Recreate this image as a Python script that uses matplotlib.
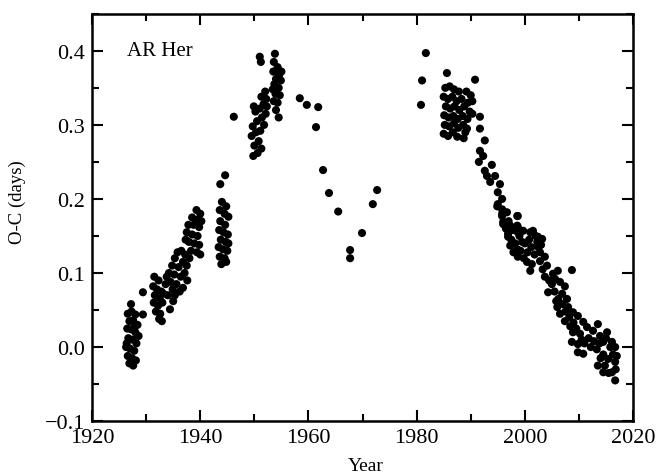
import numpy as np
import matplotlib.pyplot as plt
from matplotlib.ticker import MultipleLocator

plt.rcParams['font.family'] = ['Liberation Serif', 'DejaVu Serif']

# O-C measurements of AR Her, read off the plot --------------------------
# early photographic epochs (1926-1955)
year_early = [
    1927.2, 1929.4, 1929.4, 1926.6, 1927.3, 1928.0, 1926.9, 1927.6, 1928.4, 1926.5,
    1927.2, 1928.0, 1928.6, 1926.7, 1927.5, 1928.2, 1926.3, 1927.0, 1927.8, 1926.6,
    1927.4, 1928.1, 1926.9, 1927.6, 1926.4, 1927.9,
    1931.5, 1932.3, 1931.3, 1932.0, 1932.8, 1931.6, 1932.5, 1933.2, 1931.4, 1932.2,
    1933.0, 1931.8, 1932.6, 1932.9, 1932.4, 1934.4, 1933.6, 1933.8,
    1934.2, 1934.8, 1935.3, 1935.8, 1936.5, 1937.2, 1934.5, 1935.2, 1936.0, 1936.8,
    1937.5, 1934.9, 1935.6, 1936.4, 1937.1, 1935.3, 1936.2, 1935.0, 1937.6, 1936.8,
    1934.0, 1938.0,
    1939.3, 1940.0, 1938.5, 1939.5, 1937.8, 1938.8, 1939.8, 1937.5, 1938.5, 1939.5,
    1937.9, 1938.9, 1939.8, 1938.3, 1939.4, 1940.0, 1937.3, 1940.2,
    1944.0, 1944.8, 1943.6, 1944.5, 1945.2, 1943.7, 1944.6, 1943.5, 1944.3, 1945.1,
    1943.8, 1944.7, 1943.4, 1944.2, 1945.0, 1943.6, 1944.5, 1943.9, 1944.8, 1945.2,
    1943.7, 1944.6, 1946.2,
    1949.8, 1950.6, 1951.3, 1950.0, 1950.8, 1949.5, 1950.3, 1951.1, 1951.8, 1949.7,
    1950.5, 1951.4, 1952.1, 1950.2, 1951.0, 1951.7, 1952.2, 1951.3, 1952.0, 1949.9,
    1951.0, 1951.2, 1952.3,
    1953.8, 1953.6, 1954.3, 1953.5, 1954.6, 1954.0, 1954.9, 1953.7, 1954.5, 1953.9,
    1954.7, 1953.6, 1954.3, 1954.0, 1954.5, 1955.0, 1953.4,
]
oc_early = [
    0.058, 0.074, 0.044, 0.045, 0.048, 0.044, 0.035, 0.036, 0.030, 0.025,
    0.024, 0.020, 0.015, 0.012, 0.010, 0.005, 0.000, -0.002, -0.005, -0.012,
    -0.015, -0.018, -0.022, -0.025, 0.005, 0.028,
    0.095, 0.090, 0.082, 0.078, 0.075, 0.070, 0.066, 0.072, 0.060, 0.056,
    0.060, 0.048, 0.045, 0.035, 0.038, 0.051, 0.085, 0.095,
    0.100, 0.110, 0.120, 0.128, 0.130, 0.125, 0.088, 0.098, 0.108, 0.115,
    0.110, 0.078, 0.085, 0.095, 0.100, 0.070, 0.075, 0.062, 0.090, 0.080,
    0.070, 0.120,
    0.185, 0.180, 0.175, 0.172, 0.165, 0.165, 0.162, 0.155, 0.152, 0.150,
    0.142, 0.140, 0.138, 0.130, 0.128, 0.125, 0.145, 0.170,
    0.196, 0.190, 0.185, 0.180, 0.176, 0.170, 0.165, 0.158, 0.155, 0.152,
    0.145, 0.142, 0.135, 0.132, 0.130, 0.122, 0.120, 0.112, 0.115, 0.140,
    0.220, 0.232, 0.311,
    0.258, 0.262, 0.268, 0.272, 0.278, 0.285, 0.290, 0.292, 0.300, 0.298,
    0.305, 0.310, 0.315, 0.318, 0.322, 0.328, 0.335, 0.338, 0.345, 0.325,
    0.392, 0.385, 0.325,
    0.396, 0.385, 0.378, 0.372, 0.368, 0.362, 0.360, 0.355, 0.350, 0.342,
    0.340, 0.332, 0.330, 0.320, 0.310, 0.372, 0.348,
]

# sparse minima 1958-1982
year_mid = [1958.4, 1959.7, 1961.8, 1961.4, 1962.7, 1963.8, 1965.5, 1967.7, 1967.7,
            1969.9, 1971.9, 1972.7, 1980.8, 1981.0, 1981.7]
oc_mid = [0.336, 0.327, 0.324, 0.297, 0.239, 0.208, 0.183, 0.131, 0.120,
          0.154, 0.193, 0.212, 0.327, 0.360, 0.397]

# modern CCD epochs (1985-2017)
year_late = [
    1985.6, 1990.8,
    1985.3, 1986.1, 1986.9, 1987.8, 1989.2, 1990.0, 1985.0, 1985.8, 1986.6, 1987.4,
    1988.3, 1989.5, 1990.3, 1985.4, 1986.2, 1987.0, 1987.9, 1988.8, 1989.8, 1985.1,
    1985.9, 1986.8, 1987.6, 1988.5, 1989.4, 1990.3, 1985.2, 1986.0, 1986.9, 1987.7,
    1988.6, 1989.3, 1985.0, 1985.8, 1986.7, 1987.5, 1988.7, 1989.0,
    1991.7, 1991.7, 1992.6, 1991.7, 1992.3, 1991.5, 1993.9, 1992.6, 1993.0, 1994.5,
    1993.6, 1995.4, 1995.0, 1995.8, 1994.9, 1995.8, 1996.7, 1995.8, 1998.6, 1996.0,
    1997.3, 1998.7, 1996.9, 1999.7, 2001.0, 2002.4,
    1995.0, 1995.8, 1998.7, 1996.0, 1998.6, 1996.9, 1998.7, 1997.3, 1998.6, 1999.5,
    1998.7, 2000.4, 2001.0, 2001.5, 2002.3, 2003.2, 2002.8, 2003.7, 2002.8, 2004.1,
    2008.7, 2003.7, 2005.2, 2006.1, 2006.5, 2004.3, 2007.4, 2006.9, 2007.8, 2006.0,
    2008.0, 2006.5, 2008.9, 2007.4, 2009.8, 2008.4, 2010.8, 2008.9, 2011.5, 2008.7,
    2009.8, 2012.6, 2013.5, 2013.9, 2009.8, 2010.8, 2014.5, 2015.2, 2016.1, 2013.3,
    2013.5, 2014.5, 2015.4, 2016.7, 2016.7, 2016.1, 2016.7, 2017.0, 2014.5,
    1997.0, 1997.8, 1997.5, 1998.2, 1996.5, 1997.9, 1999.2, 1999.8, 2000.5, 2001.2,
    2001.8, 2002.0, 2002.5, 2003.0, 2001.3, 2003.3, 2004.5, 2005.0, 2005.6, 2005.5,
    2006.2, 2005.8, 2007.0, 2007.5, 2008.2, 2009.0, 2009.5, 2010.2, 2010.5, 2011.0,
    2011.8, 2012.2, 2012.8, 2013.8, 2014.0, 2014.8, 2015.5, 2015.8, 2016.3, 2016.8,
    2015.0, 1999.0, 2000.0, 2000.8,
]
oc_late = [
    0.370, 0.361,
    0.350, 0.352, 0.348, 0.345, 0.345, 0.340, 0.338, 0.335, 0.338, 0.332,
    0.335, 0.330, 0.332, 0.325, 0.322, 0.325, 0.320, 0.325, 0.318, 0.313,
    0.310, 0.312, 0.308, 0.312, 0.308, 0.315, 0.300, 0.298, 0.302, 0.296,
    0.300, 0.295, 0.288, 0.285, 0.290, 0.284, 0.282, 0.290,
    0.311, 0.295, 0.279, 0.265, 0.258, 0.250, 0.246, 0.238, 0.231, 0.231,
    0.223, 0.220, 0.209, 0.200, 0.190, 0.186, 0.182, 0.177, 0.177, 0.169,
    0.164, 0.162, 0.153, 0.157, 0.155, 0.149,
    0.193, 0.180, 0.177, 0.166, 0.164, 0.149, 0.155, 0.137, 0.132, 0.142,
    0.122, 0.115, 0.103, 0.157, 0.142, 0.146, 0.128, 0.122, 0.116, 0.110,
    0.104, 0.095, 0.099, 0.103, 0.088, 0.074, 0.082, 0.072, 0.065, 0.054,
    0.054, 0.045, 0.047, 0.035, 0.042, 0.028, 0.034, 0.020, 0.027, 0.007,
    0.004, 0.022, 0.031, 0.015, -0.007, -0.009, 0.007, 0.020, 0.007, -0.003,
    -0.025, -0.034, -0.016, 0.000, -0.020, -0.034, -0.045, -0.012, -0.010,
    0.170, 0.158, 0.145, 0.140, 0.160, 0.128, 0.130, 0.120, 0.128, 0.135,
    0.125, 0.150, 0.135, 0.138, 0.112, 0.105, 0.090, 0.085, 0.092, 0.075,
    0.065, 0.062, 0.058, 0.048, 0.040, 0.033, 0.025, 0.018, 0.010, 0.005,
    0.012, 0.000, 0.008, 0.005, -0.015, -0.025, -0.035, 0.000, -0.010, -0.030,
    0.012, 0.150, 0.140, 0.145,
]

year = np.array(year_early + year_mid + year_late)
oc = np.array(oc_early + oc_mid + oc_late)

# Plot ------------------------------------------------------------------
fig = plt.figure(figsize=(6.72, 4.77), dpi=100)
ax = fig.add_axes([0.137, 0.115, 0.805, 0.854])

ax.scatter(year, oc, s=34, c='black', edgecolors='none')

ax.set_xlim(1920, 2020)
ax.set_ylim(-0.1, 0.45)
ax.xaxis.set_major_locator(MultipleLocator(20))
ax.xaxis.set_minor_locator(MultipleLocator(10))
ax.yaxis.set_major_locator(MultipleLocator(0.1))
ax.yaxis.set_minor_locator(MultipleLocator(0.05))
ax.set_yticks([-0.1, 0.0, 0.1, 0.2, 0.3, 0.4])
ax.set_yticklabels(['\u22120.1', '0.0', '0.1', '0.2', '0.3', '0.4'])

ax.tick_params(which='both', direction='in', top=True, right=True,
               width=1.5, labelsize=16)
ax.tick_params(which='major', length=8)
ax.tick_params(which='minor', length=5)
ax.tick_params(axis='x', pad=5)
ax.tick_params(axis='y', pad=5)
for sp in ax.spines.values():
    sp.set_linewidth(1.8)

ax.set_xlabel('Year', fontsize=14)
ax.set_ylabel('O-C (days)', fontsize=13.5)
ax.xaxis.set_label_coords(0.506, -0.088)
ax.yaxis.set_label_coords(-0.122, 0.54)
ax.text(0.065, 0.91, 'AR Her', transform=ax.transAxes, fontsize=15,
        va='center', ha='left')

fig.savefig('out.png', dpi=100)
